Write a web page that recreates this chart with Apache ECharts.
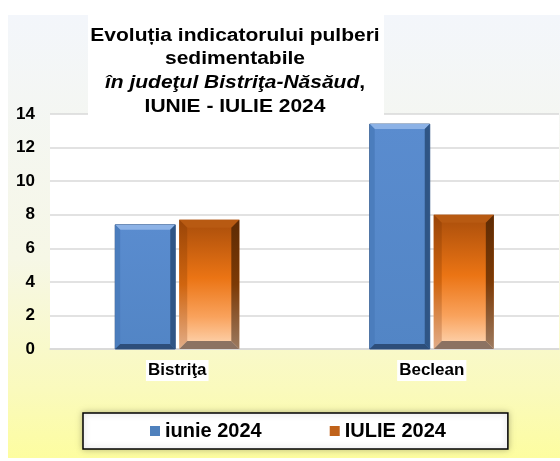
<!DOCTYPE html>
<html>
<head>
<meta charset="utf-8">
<script src="https://cdn.jsdelivr.net/npm/echarts@6/dist/echarts.min.js"></script>
<style>
  html, body { margin: 0; padding: 0; background: #fff; }
  #main { width: 560px; height: 461px; }
</style>
</head>
<body>
<div id="main"></div>
<script>
// date
var categories = ['Bistriţa', 'Beclean'];
var seriesNames = ['iunie 2024', 'IULIE 2024'];
var iunieValues = [7.4, 13.4];
var iulieValues = [7.7, 8.0];
var yTicks = [0, 2, 4, 6, 8, 10, 12, 14];

var FONT = 'Arial, "Liberation Sans", sans-serif';

var blueLook = {
  bevel: 5,
  main: new echarts.graphic.LinearGradient(0, 0, 0, 1, [
    { offset: 0, color: '#5a8ccf' }, { offset: 1, color: '#5285c5' }]),
  top: '#8cb2e6',
  left: '#4b7dbd',
  right: '#2f5585',
  bottom: '#2d4e7a',
  stroke: '#3a5c8a'
};
var orangeLook = {
  bevel: 8,
  main: new echarts.graphic.LinearGradient(0, 0, 0, 1, [
    { offset: 0, color: '#a84d0b' }, { offset: 0.45, color: '#eb7414' },
    { offset: 0.75, color: '#f9a25c' }, { offset: 1, color: '#fed9b8' }]),
  top: '#b85a12',
  left: new echarts.graphic.LinearGradient(0, 0, 0, 1, [
    { offset: 0, color: '#9a4508' }, { offset: 0.5, color: '#d0650f' }, { offset: 1, color: '#e2ad88' }]),
  right: new echarts.graphic.LinearGradient(0, 0, 0, 1, [
    { offset: 0, color: '#5e2b04' }, { offset: 0.5, color: '#7c3a06' }, { offset: 1, color: '#9c7a60' }]),
  bottom: '#8c7262',
  stroke: null
};

// bara cu efect de bizou, pozitionata prin scala axelor
function bevelBar(side, look) {
  return function (params, api) {
    var top = api.coord([api.value(0), api.value(1)]);
    var base = api.coord([api.value(0), 0]);
    var band = api.size([1, 0])[0];
    var w = band * 0.236;
    var cx = top[0] + side * (w / 2 + 2);
    var x0 = cx - w / 2, x1 = cx + w / 2, y0 = top[1], y1 = base[1];
    var b = Math.min(look.bevel, (y1 - y0) / 2);
    return {
      type: 'group',
      children: [
        { type: 'rect', shape: { x: x0, y: y0, width: w, height: y1 - y0 },
          style: { fill: look.main, stroke: look.stroke, lineWidth: look.stroke ? 1 : 0 } },
        { type: 'polygon', shape: { points: [[x0, y0], [x1, y0], [x1 - b, y0 + b], [x0 + b, y0 + b]] },
          style: { fill: look.top } },
        { type: 'polygon', shape: { points: [[x0, y0], [x0 + b, y0 + b], [x0 + b, y1 - b], [x0, y1]] },
          style: { fill: look.left } },
        { type: 'polygon', shape: { points: [[x1, y0], [x1, y1], [x1 - b, y1 - b], [x1 - b, y0 + b]] },
          style: { fill: look.right } },
        { type: 'polygon', shape: { points: [[x0, y1], [x0 + b, y1 - b], [x1 - b, y1 - b], [x1, y1]] },
          style: { fill: look.bottom } }
      ]
    };
  };
}

var option = {
  backgroundColor: '#ffffff',
  animation: false,
  graphic: [
    { type: 'rect', z: -10, shape: { x: 8, y: 15, width: 552, height: 443 },
      style: { fill: new echarts.graphic.LinearGradient(0, 0, 0, 1, [
        { offset: 0, color: '#f3f6fb' }, { offset: 0.55, color: '#f6f7e6' },
        { offset: 0.85, color: '#fafabc' }, { offset: 1, color: '#fdfda0' }]) } },
    { type: 'rect', z: 10, shape: { x: 88, y: 15, width: 296, height: 103 },
      style: { fill: '#ffffff' } },
    { type: 'text', z: 11, x: 235, y: 24, scaleX: 1.2,
      style: {
        x: 0, y: 0, align: 'center', verticalAlign: 'top',
        text: '{b|Evoluția indicatorului pulberi}\n{b|sedimentabile}\n{i|în judeţul Bistriţa-Năsăud}{b|,}\n{b|IUNIE - IULIE 2024}',
        rich: {
          b: { fontFamily: FONT, fontSize: 17.5, fontWeight: 'bold', fill: '#000', lineHeight: 23.7 },
          i: { fontFamily: FONT, fontSize: 17.5, fontWeight: 'bold', fontStyle: 'italic', fill: '#000', lineHeight: 23.7 }
        }
      } }
  ],
  legend: {
    left: 83, top: 413,
    data: [
      { name: seriesNames[0], itemStyle: { color: '#4f81bd' } },
      { name: seriesNames[1], itemStyle: { color: '#c0621a' } }
    ],
    icon: 'rect', itemWidth: 10, itemHeight: 10, itemGap: 68,
    padding: [8, 62, 8, 67],
    backgroundColor: '#ffffff', borderColor: '#000', borderWidth: 1.5,
    shadowBlur: 6, shadowColor: 'rgba(0,0,0,0.25)',
    textStyle: { fontFamily: FONT, fontSize: 20, fontWeight: 'bold', color: '#000' }
  },
  grid: {
    left: 50, right: 1, top: 114, bottom: 112,
    show: true, backgroundColor: '#ffffff', borderWidth: 0
  },
  xAxis: {
    type: 'category', data: categories,
    axisLine: { show: true, lineStyle: { color: '#d8d8d8', width: 1.5 } },
    axisTick: { show: false },
    axisLabel: {
      interval: 0, margin: 11, fontFamily: FONT, fontSize: 17, fontWeight: 'bold', color: '#000',
      backgroundColor: '#ffffff', padding: [2, 2, 2, 2]
    }
  },
  yAxis: {
    type: 'value', min: yTicks[0], max: yTicks[yTicks.length - 1], interval: 2,
    axisLine: { show: false }, axisTick: { show: false },
    axisLabel: { margin: 15, fontFamily: FONT, fontSize: 17, fontWeight: 'bold', color: '#000' },
    splitLine: { lineStyle: { color: '#d8d8d8', width: 1.5 } }
  },
  series: [
    { name: seriesNames[0], type: 'custom', itemStyle: { color: '#4f81bd' },
      encode: { x: 0, y: 1 },
      data: iunieValues.map(function (v, i) { return [i, v]; }),
      renderItem: bevelBar(-1, blueLook) },
    { name: seriesNames[1], type: 'custom', itemStyle: { color: '#c0621a' },
      encode: { x: 0, y: 1 },
      data: iulieValues.map(function (v, i) { return [i, v]; }),
      renderItem: bevelBar(1, orangeLook) }
  ]
};

var chart = echarts.init(document.getElementById('main'));
chart.setOption(option);
</script>
</body>
</html>
